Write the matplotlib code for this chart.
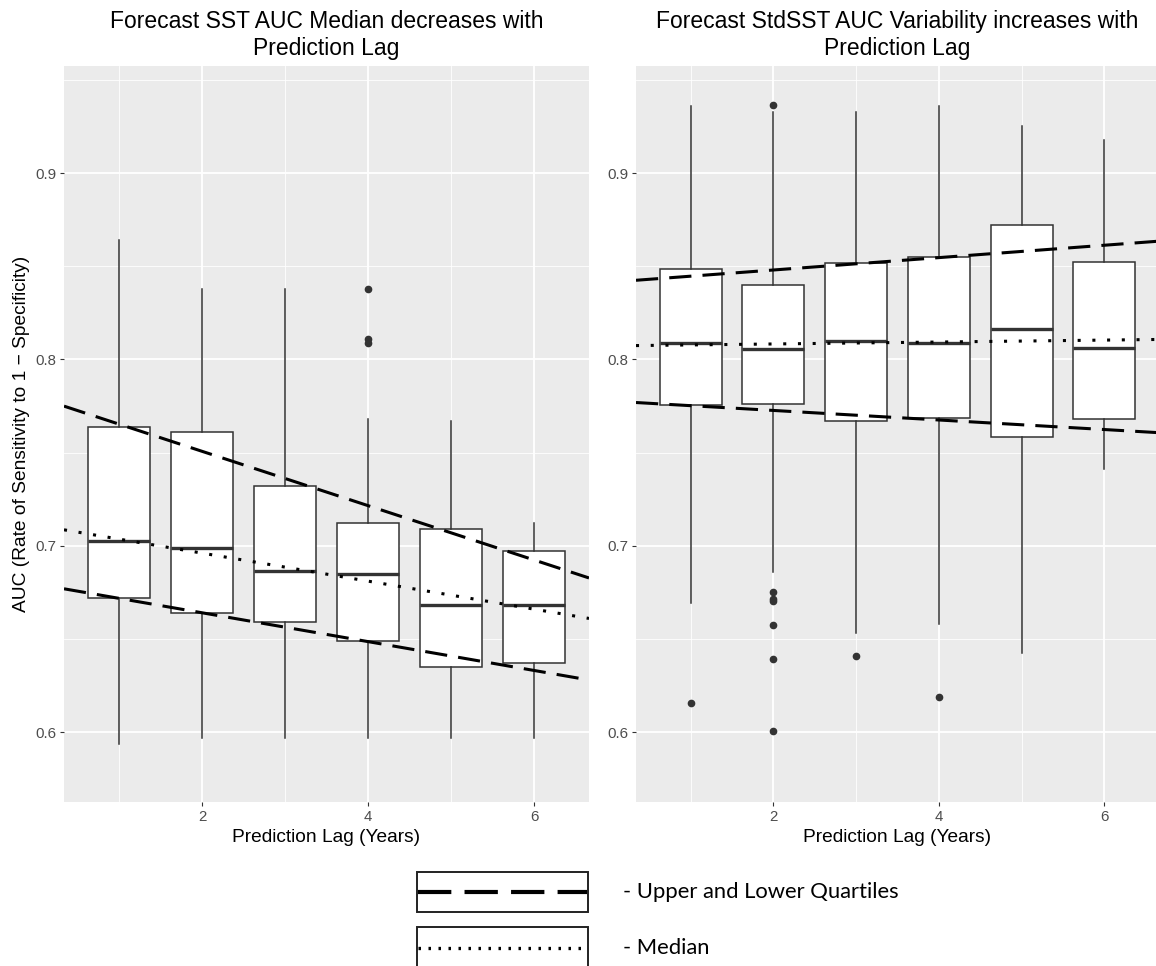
import matplotlib
matplotlib.use('Agg')
from matplotlib import pyplot as plt
from matplotlib.patches import Rectangle
import numpy as np

plt.rcParams['font.family'] = ['Liberation Sans', 'DejaVu Sans']
plt.rcParams['lines.scale_dashes'] = False

lags = [1, 2, 3, 4, 5, 6]

# left panel: SST AUC box stats
sst_whislo = [0.5935, 0.597, 0.597, 0.597, 0.597, 0.597]
sst_q1 = [0.672, 0.664, 0.659, 0.649, 0.635, 0.637]
sst_med = [0.7027, 0.699, 0.6866, 0.685, 0.668, 0.668]
sst_q3 = [0.764, 0.761, 0.732, 0.712, 0.709, 0.697]
sst_whishi = [0.864, 0.838, 0.838, 0.768, 0.767, 0.712]
sst_fliers = [[], [], [], [0.838, 0.811, 0.809], [], []]

# right panel: StdSST AUC box stats
std_whislo = [0.6694, 0.686, 0.6532, 0.658, 0.6425, 0.7414]
std_q1 = [0.7758, 0.7763, 0.7672, 0.7688, 0.7586, 0.7683]
std_med = [0.8086, 0.8054, 0.8097, 0.8086, 0.8161, 0.806]
std_q3 = [0.8484, 0.8398, 0.8516, 0.8548, 0.872, 0.8522]
std_whishi = [0.936, 0.933, 0.933, 0.936, 0.9253, 0.9177]
std_fliers = [[0.6156], [0.9365, 0.6753, 0.6715, 0.6705, 0.6575, 0.6392, 0.6005],
              [0.6409], [0.6188], [], []]

# fitted quantile lines, value at lag 1 and lag 6
sst_upper = [0.7653, 0.6924]
sst_lower = [0.6718, 0.6331]
sst_median = [0.7036, 0.6660]
std_upper = [0.8447, 0.8613]
std_lower = [0.7752, 0.7624]
std_median = [0.8078, 0.8104]

titles = ['Forecast SST AUC Median decreases with\nPrediction Lag',
          'Forecast StdSST AUC Variability increases with\nPrediction Lag']
ylabel = 'AUC (Rate of Sensitivity to 1 \u2212 Specificity)'
xlabel = 'Prediction Lag (Years)'

W, H = 1156, 966
fig = plt.figure(figsize=(W / 100, H / 100), dpi=100)
fig.patch.set_facecolor('white')

dash_style = (0, (16, 8))
dot_style = (0, (2.2, 8.4))


def make_stats(whislo, q1, med, q3, whishi, fliers):
    out = []
    for i in range(len(med)):
        out.append(dict(whislo=whislo[i], q1=q1[i], med=med[i], q3=q3[i],
                        whishi=whishi[i], fliers=fliers[i]))
    return out


def draw_panel(ax, stats, upper, lower, median, title, with_ylabel):
    ax.set_facecolor('#EBEBEB')
    for s in ax.spines.values():
        s.set_visible(False)
    ax.set_axisbelow(True)

    ax.bxp(stats, positions=lags, widths=0.75, showcaps=False, patch_artist=True,
           manage_ticks=False,
           boxprops=dict(facecolor='white', edgecolor='#333333', lw=1.1),
           whiskerprops=dict(color='#333333', lw=1.1),
           medianprops=dict(color='#333333', lw=2.4),
           flierprops=dict(marker='o', markerfacecolor='#333333',
                           markeredgecolor='#333333', markersize=4.5))

    ax.axline((lags[0], upper[0]), (lags[-1], upper[1]), color='black', lw=2.2,
              ls=dash_style, zorder=5)
    ax.axline((lags[0], lower[0]), (lags[-1], lower[1]), color='black', lw=2.2,
              ls=dash_style, zorder=5)
    ax.axline((lags[0], median[0]), (lags[-1], median[1]), color='black', lw=2.2,
              ls=dot_style, zorder=5, solid_capstyle='butt', dash_capstyle='butt')

    ax.set_xlim(0.3375, 6.6625)
    ax.set_ylim(0.5625, 0.9575)
    ax.set_xticks([2, 4, 6])
    ax.set_xticklabels(['2', '4', '6'])
    ax.set_xticks([1, 3, 5], minor=True)
    ax.set_yticks([0.6, 0.7, 0.8, 0.9])
    ax.set_yticklabels(['0.6', '0.7', '0.8', '0.9'])
    ax.set_yticks([0.65, 0.75, 0.85, 0.95], minor=True)
    ax.grid(which='major', color='white', lw=1.3)
    ax.grid(which='minor', color='white', lw=0.6)
    ax.tick_params(which='major', length=3, width=0.8, color='#333333',
                   labelsize=10.8, labelcolor='#4D4D4D', pad=2.5)
    ax.tick_params(which='minor', length=0)

    ax.set_title(title, fontsize=16.5, pad=8, linespacing=1.2)
    ax.set_xlabel(xlabel, fontsize=13.8, labelpad=4)
    if with_ylabel:
        ax.set_ylabel(ylabel, fontsize=13.8, labelpad=4)


bottom = (H - 802) / H
height = 736 / H
ax1 = fig.add_axes([64 / W, bottom, 525 / W, height])
ax2 = fig.add_axes([636 / W, bottom, 523 / W, height])

draw_panel(ax1, make_stats(sst_whislo, sst_q1, sst_med, sst_q3, sst_whishi, sst_fliers),
           sst_upper, sst_lower, sst_median, titles[0], True)
draw_panel(ax2, make_stats(std_whislo, std_q1, std_med, std_q3, std_whishi, std_fliers),
           std_upper, std_lower, std_median, titles[1], False)

# legend drawn underneath, in pixel coordinates
lax = fig.add_axes([0, 0, 1, 1])
lax.set_xlim(0, W)
lax.set_ylim(H, 0)
lax.axis('off')
lax.patch.set_visible(False)

lax.add_patch(Rectangle((417, 872), 171, 40, facecolor='white', edgecolor='#222222', lw=1.4))
lax.add_patch(Rectangle((417, 927), 171, 40, facecolor='white', edgecolor='#222222', lw=1.4))
lax.plot([418, 587], [892, 892], color='black', lw=3, ls=(0, (24, 9.5)))
lax.plot([418, 587], [948, 948], color='black', lw=2.4, ls=(0, (1.8, 5.4)),
         dash_capstyle='butt')
lax.text(623, 892, '- Upper and Lower Quartiles', va='center', ha='left',
         fontsize=15.8, family=['Lato', 'DejaVu Sans'])
lax.text(623, 948, '- Median', va='center', ha='left',
         fontsize=15.8, family=['Lato', 'DejaVu Sans'])

plt.savefig('out.png', dpi=100)
plt.close()
